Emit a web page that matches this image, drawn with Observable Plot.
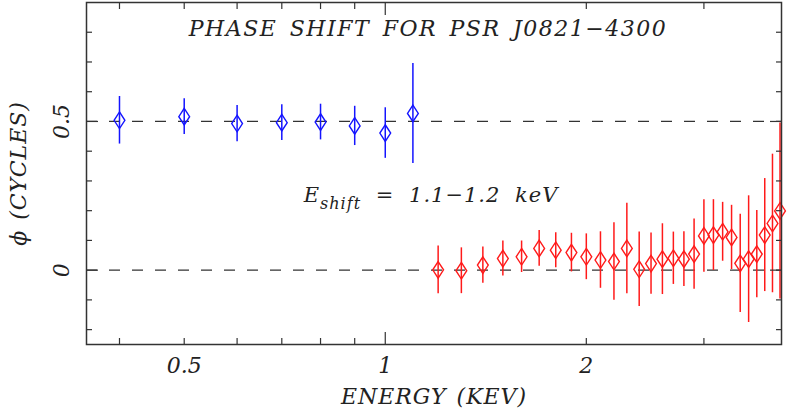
<!DOCTYPE html>
<html><head><meta charset="utf-8">
<script src="https://cdn.jsdelivr.net/npm/d3@7"></script>
<script src="https://cdn.jsdelivr.net/npm/@observablehq/plot@0.6"></script>
<style>html,body{margin:0;padding:0;background:#fff} svg{display:block}</style>
</head><body><div id="chart"></div>
<script>
// ---- data ----
const blueEnergy = [0.4, 0.5, 0.6, 0.7, 0.8, 0.9, 1.0, 1.1];
const bluePhase  = [0.504, 0.516, 0.493, 0.496, 0.498, 0.485, 0.461, 0.527];
const blueErr    = [0.080, 0.060, 0.061, 0.060, 0.060, 0.066, 0.085, 0.168];

const redEnergy = [1.2, 1.3, 1.4, 1.5, 1.6, 1.7, 1.8, 1.9, 2.0, 2.1, 2.2, 2.3, 2.4, 2.5,
                   2.6, 2.7, 2.8, 2.9, 3.0, 3.1, 3.2, 3.3, 3.4, 3.5, 3.6, 3.7, 3.8, 3.9];
const redPhase  = [0.001, -0.002, 0.017, 0.039, 0.045, 0.073, 0.067, 0.059, 0.045, 0.034,
                   0.029, 0.073, 0.003, 0.022, 0.037, 0.040, 0.037, 0.054, 0.115, 0.118,
                   0.129, 0.110, 0.023, 0.037, 0.054, 0.118, 0.157, 0.199];
const redErr    = [0.080, 0.077, 0.061, 0.059, 0.053, 0.060, 0.059, 0.065, 0.077, 0.095,
                   0.130, 0.152, 0.125, 0.103, 0.119, 0.088, 0.092, 0.118, 0.122, 0.119,
                   0.099, 0.108, 0.165, 0.213, 0.147, 0.190, 0.233, 0.296];

const xTickLabels = [0.5, 1, 2];
const xMinorTicks = [0.4, 0.5, 0.6, 0.7, 0.8, 0.9, 2, 3];
const xMajorTicks = [1];
const yMinorTicks = [-0.2, -0.1, 0.1, 0.2, 0.3, 0.4, 0.6, 0.7, 0.8];
const yMajorTicks = [0, 0.5];
const yTickLabels = [0, 0.5];
const refLines = [0, 0.5];

const titleText = "PHASE SHIFT FOR PSR J0821\u22124300";
const xLabel = "ENERGY (KEV)";
const yLabel = "\u03D5 (CYCLES)";
const annotation = {E: 0.755, phase: 0.252, main: "E", sub: "shift", rest: " = 1.1\u22121.2 keV"};

// ---- build tables ----
const blue = blueEnergy.map((e, i) => ({e, p: bluePhase[i], err: blueErr[i]}));
const red = redEnergy.map((e, i) => ({e, p: redPhase[i], err: redErr[i]}));

const BLUE = "#1414ff", RED = "#ff1a1a", INK = "#222", AX = "#333";
const font = {fontFamily: "DejaVu Serif", fontStyle: "italic", fill: INK};

const diamond = {
  draw(ctx) {
    const w = 5.4, h = 8.3;
    ctx.moveTo(0, -h); ctx.lineTo(w, 0); ctx.lineTo(0, h); ctx.lineTo(-w, 0); ctx.closePath();
  }
};

const tickAxes = [];
for (const anchor of ["bottom", "top"]) {
  tickAxes.push(Plot.axisX(xMinorTicks, {anchor, tickSize: -6, tickFormat: () => "", label: null, stroke: AX, strokeWidth: 1.2}));
  tickAxes.push(Plot.axisX(xMajorTicks, {anchor, tickSize: -12, tickFormat: () => "", label: null, stroke: AX, strokeWidth: 1.2}));
}
for (const anchor of ["left", "right"]) {
  tickAxes.push(Plot.axisY(yMinorTicks, {anchor, tickSize: -6, tickFormat: () => "", label: null, stroke: AX, strokeWidth: 1.2}));
  tickAxes.push(Plot.axisY(yMajorTicks, {anchor, tickSize: -12, tickFormat: () => "", label: null, stroke: AX, strokeWidth: 1.2}));
}

const chart = Plot.plot({
  width: 789,
  height: 411,
  marginLeft: 86,
  marginRight: 8,
  marginTop: 2,
  marginBottom: 67,
  x: {type: "log", domain: [0.357, 3.92]},
  y: {domain: [-0.25, 0.9]},
  marks: [
    Plot.ruleY(refLines, {stroke: AX, strokeWidth: 1.3, strokeDasharray: "11,12"}),
    Plot.ruleX(blue, {x: "e", y1: d => d.p - d.err, y2: d => d.p + d.err, stroke: BLUE, strokeWidth: 1.5}),
    Plot.dot(blue, {x: "e", y: "p", symbol: diamond, fill: "none", stroke: BLUE, strokeWidth: 1.4}),
    Plot.ruleX(red, {x: "e", y1: d => d.p - d.err, y2: d => d.p + d.err, stroke: RED, strokeWidth: 1.5}),
    Plot.dot(red, {x: "e", y: "p", symbol: diamond, fill: "none", stroke: RED, strokeWidth: 1.4}),
    ...tickAxes,
    Plot.frame({stroke: AX, strokeWidth: 1.5}),
    // tick labels
    Plot.text(xTickLabels, {x: d => d, frameAnchor: "bottom", dy: 28, text: d => String(d), fontSize: 22, ...font}),
    Plot.text(yTickLabels, {y: d => d, frameAnchor: "left", textAnchor: "middle", dx: -25, rotate: -90, text: d => String(d), fontSize: 22, ...font}),
    // axis titles
    Plot.text([xLabel], {frameAnchor: "bottom", dy: 59, text: d => d, fontSize: 22, className: "xlab", ...font}),
    Plot.text([yLabel], {frameAnchor: "left", textAnchor: "middle", dx: -68, rotate: -90, text: d => d, fontSize: 22, className: "ylab", ...font}),
    // chart title
    Plot.text([titleText], {frameAnchor: "top", dy: 18, dx: -6, text: d => d, fontSize: 22, className: "ttl", ...font}),
    // annotation
    Plot.text([annotation], {x: "E", y: "phase", text: d => d.main, textAnchor: "start", fontSize: 21, className: "eshift", ...font})
  ]
});

const svg = d3.select(chart);
svg.selectAll(".ttl text").style("letter-spacing", "1.5px").style("word-spacing", "4px");
svg.selectAll(".xlab text").style("letter-spacing", "1px").style("word-spacing", "2px");
svg.selectAll(".ylab text").style("letter-spacing", "1px").style("word-spacing", "2px");

// Add the subscript to the annotation
svg.selectAll(".eshift text").each(function() {
  const t = d3.select(this);
  t.text(null).style("letter-spacing", "1px").style("word-spacing", "7px");
  t.append("tspan").text(annotation.main);
  t.append("tspan").attr("dy", 7).attr("font-size", 16).text(annotation.sub);
  t.append("tspan").attr("dy", -7).style("white-space", "pre").text(annotation.rest);
});

document.getElementById("chart").appendChild(chart);
</script>
</body></html>
